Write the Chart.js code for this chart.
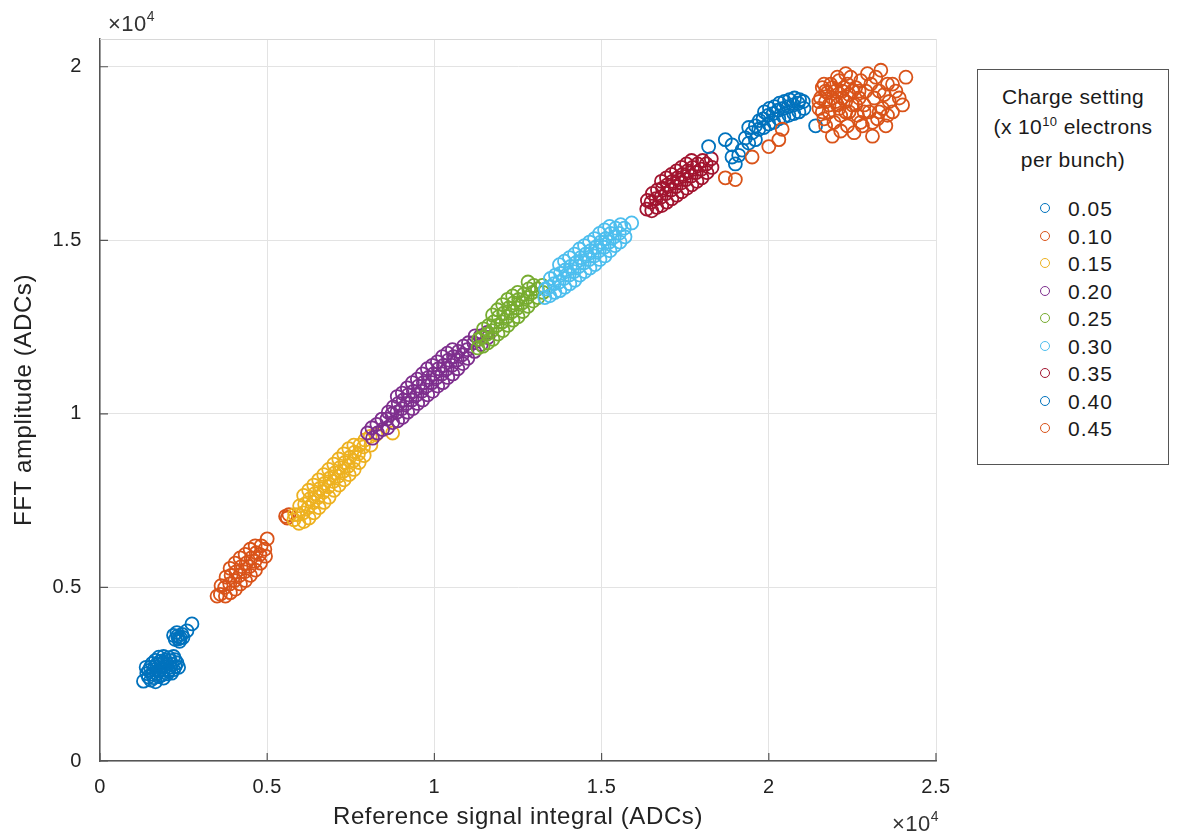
<!DOCTYPE html>
<html><head><meta charset="utf-8">
<script src="https://cdn.jsdelivr.net/npm/chart.js@4"></script>
<style>
body{margin:0;background:#fff;}
#wrap{position:relative;width:1184px;height:838px;font-family:"Liberation Sans",Arial,Helvetica,sans-serif;color:#1a1a1a;overflow:hidden;}
#c{position:absolute;left:0;top:0;}
.exp{position:absolute;font-size:22px;color:#333;white-space:nowrap;letter-spacing:0.5px;line-height:24px;}
.exp .s{font-size:14px;position:relative;top:-10px;}
#legend{position:absolute;left:977px;top:69px;width:192px;height:396px;border:1px solid #555;box-sizing:border-box;background:#fff;}
#legend .t{text-align:center;font-size:21px;line-height:30px;margin-top:12px;letter-spacing:0.4px;}
#legend .t .s{font-size:13px;position:relative;top:-8px;}
#legend .items{margin-top:20px;}
#legend .it{height:27.5px;line-height:27.5px;font-size:21px;position:relative;letter-spacing:1px;}
#legend .it i{position:absolute;left:62px;top:8px;width:8px;height:8px;border:1.7px solid;border-radius:50%;}
#legend .it span{position:absolute;left:90px;}
</style>
</head><body>
<div id="wrap">
<canvas id="c" width="1184" height="838"></canvas>
<div class="exp" style="left:108px;top:12px;">×10<span class="s">4</span></div>
<div class="exp" style="left:892px;top:812px;">×10<span class="s">4</span></div>
<div id="legend">
  <div class="t">Charge setting<br>(x 10<span class="s">10</span> electrons<br>per bunch)</div>
  <div class="items" id="items"></div>
</div>
</div>
<script>
const seriesLabels = ['0.05','0.10','0.15','0.20','0.25','0.30','0.35','0.40','0.45'];
const seriesColors = ['#0072BD','#D95319','#EDB120','#7E2F8E','#77AC30','#4DBEEE','#A2142F','#0072BD','#D95319'];
const xTickValues = [0,5000,10000,15000,20000,25000];
const yTickValues = [0,5000,10000,15000,20000];

const s005 = [[1300,2300],[1520,2330],[1660,2280],[1450,2420],[1610,2400],[1760,2430],[1900,2390],[1400,2520],[1560,2500],[1700,2520],[1850,2480],[2010,2510],[2140,2530],[1460,2610],[1600,2630],[1750,2590],[1900,2620],[2060,2600],[2200,2630],[1510,2700],[1650,2720],[1800,2690],[1950,2710],[2100,2700],[2250,2720],[1560,2810],[1700,2790],[1850,2820],[2000,2800],[2150,2790],[2300,2830],[1660,2900],[1810,2880],[1950,2910],[2100,2890],[2240,2920],[1760,2990],[1900,3010],[2060,2980],[2200,3010],[1380,2700],[2350,2700],
  [2250,3500],[2320,3600],[2400,3550],[2450,3650],[2300,3700],[2380,3450],[2200,3620],[2480,3560],[2350,3520],[2600,3750],[2750,3950]];
const s010 = [[3500,4750],[3600,4800],[3620,5050],[3750,4750],[3730,5000],[3770,5300],[3900,4850],[3880,5100],[3920,5350],[3890,5550],[4050,4950],[4030,5200],[4070,5450],[4040,5700],[4200,5100],[4180,5350],[4220,5600],[4190,5850],[4350,5200],[4330,5450],[4370,5700],[4340,5950],[4500,5350],[4480,5600],[4520,5850],[4490,6100],[4650,5500],[4630,5750],[4670,6000],[4640,6200],[4800,5700],[4780,5950],[4820,6200],[4950,5900],[4930,6100],[5000,6400],[5550,7050],[5650,7100],[5600,7000]];
const s015 = [[5800,6950],[5820,7100],[5950,6850],[5930,7100],[5970,7350],[6100,6900],[6080,7150],[6120,7400],[6090,7650],[6250,7000],[6230,7300],[6270,7550],[6240,7800],[6400,7150],[6380,7450],[6420,7700],[6390,7950],[6550,7300],[6530,7600],[6570,7850],[6540,8100],[6700,7450],[6680,7750],[6720,8000],[6690,8250],[6850,7600],[6830,7900],[6870,8150],[6840,8400],[7000,7800],[6980,8050],[7020,8300],[6990,8550],[7150,7950],[7130,8200],[7170,8450],[7140,8700],[7300,8100],[7280,8350],[7320,8600],[7290,8850],[7450,8250],[7430,8500],[7470,8750],[7440,9000],[7600,8400],[7580,8650],[7620,8900],[7590,9100],[7750,8600],[7730,8850],[7770,9100],[7900,8800],[7880,9050],[7920,9250],[8100,9100],[8080,9350],[8750,9450],[8250,9400]];
const s020 = [[8000,9450],[8150,9300],[8130,9600],[8300,9450],[8280,9700],[8450,9550],[8430,9850],[8600,9600],[8580,9850],[8620,10050],[8750,9750],[8730,10000],[8770,10200],[8900,9800],[8880,10050],[8920,10300],[8890,10500],[9050,9900],[9030,10150],[9070,10400],[9040,10600],[9200,10050],[9180,10300],[9220,10550],[9190,10750],[9350,10150],[9330,10400],[9370,10650],[9340,10900],[9500,10300],[9480,10550],[9520,10800],[9490,11000],[9650,10400],[9630,10650],[9670,10900],[9640,11150],[9800,10550],[9780,10800],[9820,11050],[9790,11300],[9950,10650],[9930,10900],[9970,11150],[9940,11400],[10100,10800],[10080,11050],[10120,11300],[10090,11500],[10250,10900],[10230,11150],[10270,11400],[10240,11650],[10400,11050],[10380,11300],[10420,11550],[10390,11750],[10550,11150],[10530,11400],[10570,11650],[10540,11850],[10700,11300],[10680,11550],[10720,11800],[10850,11450],[10830,11700],[10870,11950],[11000,11600],[10980,11850],[11020,12050],[11200,11800],[11180,12050],[11220,12250],[11400,12000],[11380,12250],[11600,12200],[11580,12350]];
const s025 = [[11300,11900],[11320,12150],[11450,11950],[11430,12200],[11470,12450],[11600,12050],[11580,12300],[11620,12550],[11750,12150],[11730,12400],[11770,12650],[11740,12850],[11900,12300],[11880,12550],[11920,12800],[11890,13000],[12050,12400],[12030,12650],[12070,12900],[12040,13150],[12200,12550],[12180,12800],[12220,13050],[12190,13300],[12350,12700],[12330,12950],[12370,13200],[12340,13400],[12500,12800],[12480,13050],[12520,13300],[12490,13500],[12650,12950],[12630,13200],[12670,13450],[12800,13100],[12780,13350],[12820,13600],[12800,13800],[12950,13250],[12930,13500],[12970,13700],[13100,13350],[13080,13600],[13250,13500],[13230,13700]];
const s030 = [[13300,13350],[13320,13600],[13450,13400],[13430,13650],[13470,13900],[13600,13500],[13580,13750],[13620,14000],[13750,13550],[13730,13800],[13770,14050],[13740,14300],[13900,13650],[13880,13900],[13920,14150],[13890,14400],[14050,13750],[14030,14000],[14070,14250],[14040,14500],[14200,13850],[14180,14100],[14220,14350],[14190,14600],[14350,14000],[14330,14250],[14370,14500],[14340,14750],[14500,14100],[14480,14350],[14520,14600],[14490,14850],[14650,14200],[14630,14450],[14670,14700],[14640,14950],[14800,14300],[14780,14550],[14820,14800],[14790,15050],[14950,14450],[14930,14700],[14970,14950],[14940,15200],[15100,14550],[15080,14800],[15120,15050],[15090,15300],[15250,14700],[15230,14950],[15270,15200],[15240,15400],[15400,14850],[15380,15100],[15420,15350],[15550,14950],[15530,15200],[15570,15450],[15700,15100],[15680,15350],[15900,15500]];
const s035 = [[16350,15900],[16370,16150],[16500,15850],[16480,16100],[16520,16350],[16650,15950],[16630,16200],[16670,16450],[16800,16000],[16780,16250],[16820,16500],[16790,16700],[16950,16100],[16930,16350],[16970,16600],[16940,16800],[17100,16200],[17080,16450],[17120,16700],[17090,16900],[17250,16300],[17230,16550],[17270,16800],[17240,17000],[17400,16400],[17380,16650],[17420,16900],[17390,17100],[17550,16500],[17530,16750],[17570,17000],[17540,17200],[17700,16600],[17680,16850],[17720,17100],[17690,17300],[17850,16700],[17830,16950],[17870,17200],[18000,16800],[17980,17050],[18020,17300],[18150,16950],[18130,17200],[18300,17100],[18280,17350]];
const s040 = [[18200,17700],[18700,17900],[18900,17750],[18900,17400],[19000,17200],[19100,17450],[19200,17600],[19300,17950],[19400,17800],[19400,18250],[19500,18100],[19600,17900],[19600,18300],[19700,18200],[19720,18450],[19850,18250],[19830,18500],[19870,18700],[20000,18350],[19980,18600],[20020,18800],[20150,18400],[20130,18650],[20170,18850],[20300,18500],[20280,18750],[20320,18950],[20450,18550],[20430,18800],[20470,19000],[20600,18600],[20580,18850],[20620,19050],[20750,18650],[20730,18900],[20770,19100],[20900,18700],[20880,18950],[20920,19050],[21050,18800],[21030,19000],[21400,18300]];
const s045 = [[18700,16800],[19000,16750],[19500,17400],[20000,17700],[20300,17900],[20400,18200],[21500,18800],[21550,19100],[21600,19400],[21650,18500],[21700,19000],[21750,19250],[21800,18700],[21850,19500],[21900,19100],[21950,18400],[22000,19300],[22050,18900],[22100,19600],[22150,18150],[22200,19100],[22250,19400],[22300,18700],[22350,18300],[22400,19200],[22450,19700],[22500,18900],[22550,18100],[22600,19400],[22650,18600],[22700,19100],[22750,19600],[22800,18300],[22850,18900],[22900,19300],[22950,19800],[23000,18700],[23050,19500],[23100,18000],[23150,19100],[23200,19700],[23250,18500],[23300,19300],[23350,19900],[23400,18800],[23450,19200],[23500,18300],[23550,19500],[23600,19000],[23700,18700],[23800,19300],[23900,19100],[24000,18900],[24100,19700],[21900,18000],[22300,19800],
  [21500,19000],[21600,18700],[21700,19300],[21800,18900],[21900,19400],[22000,19000],[22100,18800],[22200,19300],[22300,19000],[22400,18700],[22500,19300],[22600,18900],[21650,19500],[22050,19700],[22350,19500],[22700,19300],[22850,18700],[23100,18400],[23300,18700],[23550,18600],[23700,19500],[21700,18300],[22150,18600],[22750,18400]];

const seriesData = [s005,s010,s015,s020,s025,s030,s035,s040,s045];
const FONT = '"Liberation Sans", Arial, Helvetica, sans-serif';

const datasets = seriesData.map((pts,i)=>({
  label: seriesLabels[i],
  data: pts.map(p=>({x:p[0],y:p[1]})),
  borderColor: seriesColors[i],
  backgroundColor: 'rgba(0,0,0,0)',
  pointRadius: 6.5,
  pointBorderWidth: 1.8,
  pointHoverRadius: 6.5,
  showLine: false,
  order: 20 - i
}));

const items = document.getElementById('items');
seriesLabels.forEach((l,i)=>{
  const d = document.createElement('div'); d.className='it';
  d.innerHTML = '<i style="border-color:'+seriesColors[i]+'"></i><span>'+l+'</span>';
  items.appendChild(d);
});

const frame = {
  id:'frame',
  beforeDraw(chart){ chart.ctx.letterSpacing = '0.6px'; },
  afterDraw(chart){
    const {ctx, chartArea:a, scales:{x,y}} = chart;
    ctx.save();
    ctx.strokeStyle = '#d8d8d8'; ctx.lineWidth = 1;
    ctx.beginPath(); ctx.moveTo(a.left, a.top+0.5); ctx.lineTo(a.right, a.top+0.5); ctx.stroke();
    ctx.strokeStyle = '#555'; ctx.lineWidth = 1.2;
    ctx.beginPath();
    xTickValues.forEach(v=>{ const px=x.getPixelForValue(v); ctx.moveTo(px,a.bottom); ctx.lineTo(px,a.bottom-8); });
    yTickValues.forEach(v=>{ const py=y.getPixelForValue(v); ctx.moveTo(a.left,py); ctx.lineTo(a.left+8,py); });
    ctx.stroke();
    ctx.restore();
  }
};

new Chart(document.getElementById('c'), {
  type:'scatter',
  data:{datasets},
  options:{
    responsive:false, animation:false,
    layout:{padding:{left:0,top:39,right:248,bottom:0}},
    plugins:{legend:{display:false}, tooltip:{enabled:false}},
    scales:{
      x:{type:'linear', min:0, max:25000,
        afterBuildTicks(s){ s.ticks = xTickValues.map(v=>({value:v})); },
        afterFit(s){ s.height = 77; },
        ticks:{padding:14, font:{family:FONT,size:20}, color:'#222', callback:v=>String(v/10000)},
        grid:{color:'#e3e3e3', drawTicks:false, lineWidth:1},
        border:{color:'#555', width:1.5},
        title:{display:true, text:'Reference signal integral (ADCs)', font:{family:FONT,size:24}, color:'#222', padding:{top:0,bottom:6}}
      },
      y:{type:'linear', min:0, max:20800,
        afterBuildTicks(s){ s.ticks = yTickValues.map(v=>({value:v})); },
        afterFit(s){ s.width = 100; },
        ticks:{padding:18, font:{family:FONT,size:20}, color:'#222', callback:v=>String(v/10000)},
        grid:{color:'#e3e3e3', drawTicks:false, lineWidth:1},
        border:{color:'#555', width:1.5},
        title:{display:true, text:'FFT amplitude (ADCs)', font:{family:FONT,size:24}, color:'#222', padding:{top:10,bottom:0}}
      }
    }
  },
  plugins:[frame]
});
</script>
</body></html>
